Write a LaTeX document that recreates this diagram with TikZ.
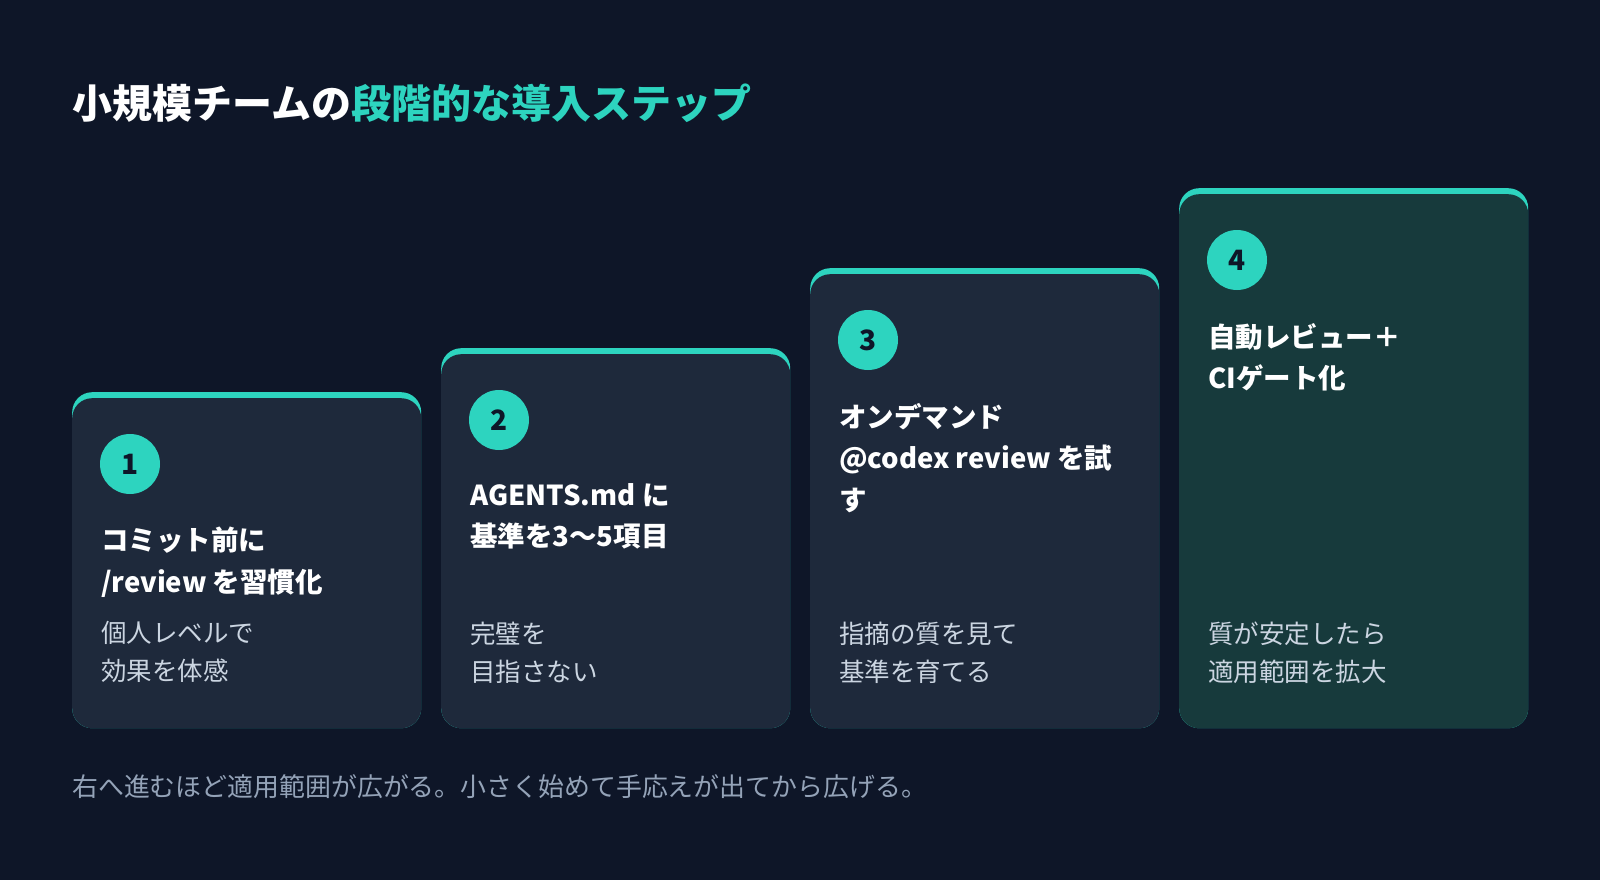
\documentclass[tikz,border=0pt]{standalone}
\usepackage{fontspec}
\setmainfont{Noto Sans CJK JP}
\usetikzlibrary{positioning,calc}
\definecolor{bgnavy}{HTML}{0E1628}
\definecolor{cardslate}{HTML}{1E293B}
\definecolor{cardteal}{HTML}{173A3C}
\definecolor{accentteal}{HTML}{2DD4BF}
\definecolor{notegray}{HTML}{CBD5E1}
\definecolor{footgray}{HTML}{94A3B8}

\begin{document}
\begin{tikzpicture}[
  x=1pt, y=-1pt,
  card/.style={rectangle, rounded corners=20pt, fill=#1, draw=none,
    minimum width=349pt, inner sep=0pt, anchor=north west},
  badge/.style={circle, fill=accentteal, minimum size=60pt, inner sep=0pt,
    font=\bfseries\fontsize{28}{28}\selectfont, text=bgnavy},
  steptitle/.style={anchor=north west, inner sep=0pt, align=left,
    font=\bfseries\fontsize{27.5}{41.5}\selectfont, text=white},
  stepnote/.style={anchor=north west, inner sep=0pt, align=left,
    font=\fontsize{25.5}{38}\selectfont, text=notegray}
]

% Canvas
\fill[bgnavy] (0,0) rectangle (1600,880);

% Heading
\node[anchor=base west, inner sep=0pt, font=\bfseries\fontsize{40}{48}\selectfont] (heading) at (72,118)
  {\textcolor{white}{小規模チームの}\textcolor{accentteal}{段階的な導入ステップ}};

% Step 1
\node[card=accentteal, minimum height=336pt] (c1top) at (72,392) {};
\node[card=cardslate, minimum height=330pt] (c1) at (72,398) {};
\node[badge] (b1) at ($(c1.north west)+(58,66)$) {1};
\node[steptitle] (t1) at ($(c1.north west)+(29,129)$) {コミット前に\\/review を習慣化};
\node[stepnote] (n1) at ($(c1.south west)+(29,-107)$) {個人レベルで\\効果を体感};

% Step 2
\node[card=accentteal, minimum height=380pt] (c2top) at (441,348) {};
\node[card=cardslate, minimum height=374pt] (c2) at (441,354) {};
\node[badge] (b2) at ($(c2.north west)+(58,66)$) {2};
\node[steptitle] (t2) at ($(c2.north west)+(29,129)$) {AGENTS.md に\\基準を3〜5項目};
\node[stepnote] (n2) at ($(c2.south west)+(29,-107)$) {完璧を\\目指さない};

% Step 3
\node[card=accentteal, minimum height=460pt] (c3top) at (810,268) {};
\node[card=cardslate, minimum height=454pt] (c3) at (810,274) {};
\node[badge] (b3) at ($(c3.north west)+(58,66)$) {3};
\node[steptitle] (t3) at ($(c3.north west)+(29,129)$) {オンデマンド\\@codex review を試\\す};
\node[stepnote] (n3) at ($(c3.south west)+(29,-107)$) {指摘の質を見て\\基準を育てる};

% Step 4
\node[card=accentteal, minimum height=540pt] (c4top) at (1179,188) {};
\node[card=cardteal, minimum height=534pt] (c4) at (1179,194) {};
\node[badge] (b4) at ($(c4.north west)+(58,66)$) {4};
\node[steptitle] (t4) at ($(c4.north west)+(29,129)$) {自動レビュー＋\\CIゲート化};
\node[stepnote] (n4) at ($(c4.south west)+(29,-107)$) {質が安定したら\\適用範囲を拡大};

% Footer
\node[anchor=base west, inner sep=0pt, text=footgray, font=\fontsize{25.9}{30}\selectfont] (foot) at (72,796)
  {右へ進むほど適用範囲が広がる。小さく始めて手応えが出てから広げる。};

\end{tikzpicture}
\end{document}
